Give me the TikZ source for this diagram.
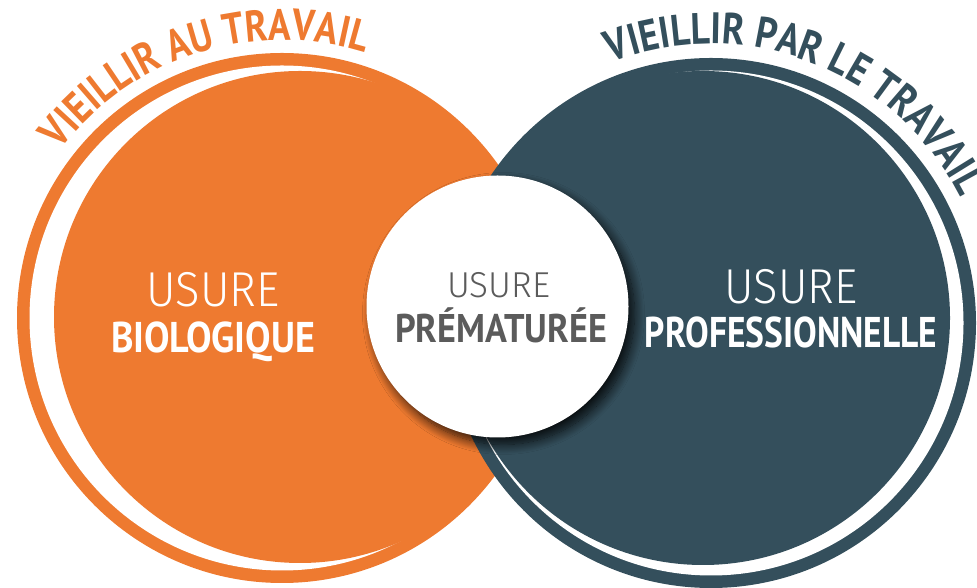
\documentclass[tikz,border=0pt]{standalone}
\usepackage{fontspec}
\usepackage{graphicx}
\usetikzlibrary{decorations.text,shadows.blur}
\newfontfamily\ptsans{PT Sans}
\newfontfamily\arcfont{PT Sans}[FakeStretch=0.85]
\newfontfamily\lightf{Fira Sans Light}
\definecolor{orng}{HTML}{EE7A30}
\definecolor{slate}{HTML}{344F5C}
\definecolor{txtgray}{HTML}{5B5B5B}
\begin{document}
\begin{tikzpicture}[x=1pt,y=1pt,
  disc/.style={circle, inner sep=0pt, outer sep=0pt, draw=none, minimum size=#1},
  lbl/.style={inner sep=0pt, anchor=base}]
\useasboundingbox (0,0) rectangle (977,588);
% left circle: ring, white crescent, filled disc
\node[disc=530pt, fill=orng] (ringL) at (282,270) {};
\node[disc=505pt, fill=white] (gapL) at (282,270) {};
\node[disc=492pt, fill=orng] (discL) at (300,271) {};
% right circle
\node[disc=530pt, fill=slate] (ringR) at (711,265) {};
\node[disc=505pt, fill=white] (gapR) at (711,265) {};
\node[disc=494pt, fill=slate] (discR) at (703,270) {};
% centre circle
\node[disc=262pt, fill=white, blur shadow={shadow xshift=6pt, shadow yshift=-7pt, shadow blur radius=10pt, shadow blur steps=16, shadow opacity=85}] (mid) at (497.5,281.5) {};
% arc titles
\path[decorate, decoration={text along path, text align=fit to path,
  text={|\arcfont\bfseries\fontsize{44}{44}\selectfont\color{orng}|VIEILLIR AU TRAVAIL}}]
  ([shift={(ringL.center)}]143:278) arc[start angle=143, end angle=73, radius=278];
\path[decorate, decoration={text along path, text align=fit to path,
  text={|\arcfont\bfseries\fontsize{44}{44}\selectfont\color{slate}|VIEILLIR PAR LE TRAVAIL}}]
  ([shift={(ringR.center)}]111:279) arc[start angle=111, end angle=28, radius=279];
% labels
\node[lbl, white] (usL) at (213,281) {\resizebox{133pt}{\height}{\lightf\fontsize{49}{49}\selectfont USURE}};
\node[lbl, white] (bioL) at (213,235) {\resizebox{204pt}{\height}{\ptsans\bfseries\fontsize{43}{43}\selectfont BIOLOGIQUE}};
\node[lbl, white] (usR) at (791,284) {\resizebox{133pt}{\height}{\lightf\fontsize{49}{49}\selectfont USURE}};
\node[lbl, white] (proR) at (791,240) {\resizebox{292pt}{\height}{\ptsans\bfseries\fontsize{43}{43}\selectfont PROFESSIONNELLE}};
\node[lbl, txtgray] (usM) at (498.5,290) {\resizebox{103pt}{\height}{\lightf\fontsize{36}{36}\selectfont USURE}};
\node[lbl, txtgray] (preM) at (501,245) {\resizebox{212pt}{\height}{\ptsans\bfseries\fontsize{40}{40}\selectfont PRÉMATURÉE}};
\end{tikzpicture}
\end{document}
